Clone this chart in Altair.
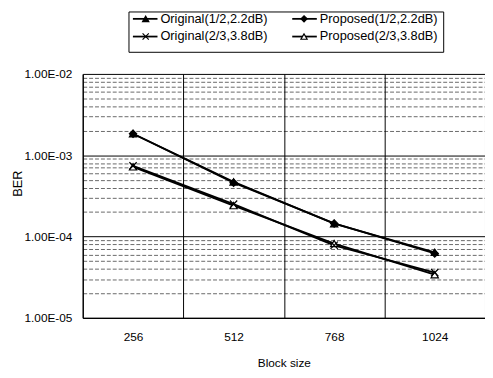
import altair as alt
import pandas as pd
import math

# ---- data ----
block_sizes = ["256", "512", "768", "1024"]
series_names = ["Original(1/2,2.2dB)", "Proposed(1/2,2.2dB)",
                "Original(2/3,3.8dB)", "Proposed(2/3,3.8dB)"]
ber_original_12 = [1.84e-3, 4.7e-4, 1.44e-4, 6.4e-5]
ber_proposed_12 = [1.84e-3, 4.6e-4, 1.45e-4, 6.2e-5]
ber_original_23 = [7.4e-4, 2.5e-4, 7.8e-5, 3.6e-5]
ber_proposed_23 = [7.2e-4, 2.4e-4, 8.2e-5, 3.4e-5]
y_decades = [1e-5, 1e-4, 1e-3, 1e-2]

values_by_series = {
    "Proposed(1/2,2.2dB)": ber_proposed_12,
    "Original(1/2,2.2dB)": ber_original_12,
    "Proposed(2/3,3.8dB)": ber_proposed_23,
    "Original(2/3,3.8dB)": ber_original_23,
}
rows = []
for s, vals in values_by_series.items():
    for b, v in zip(block_sizes, vals):
        rows.append({"series": s, "block": b, "ber": v})
df = pd.DataFrame(rows)

# y grid values: decades plus 2..9 minors
y_grid = []
for d in y_decades[:-1]:
    e = int(round(math.log10(d)))
    for m in range(1, 10):
        y_grid.append(float(f"{m}e{e}"))
y_grid.append(y_decades[-1])

FONT = "Liberation Sans"
W, H = 409, 248
is_decade = "abs(log(datum.value)/LN10 - round(log(datum.value)/LN10)) < 0.01"

x_enc = alt.X(
    "block:N", sort=block_sizes,
    scale=alt.Scale(type="band", paddingInner=0, paddingOuter=0),
    axis=alt.Axis(
        title="Block size", tickBand="extent", grid=True, gridColor="black",
        gridWidth=1, ticks=False, labelAngle=0, labelPadding=14,
        labelFontSize=12, labelFont=FONT, labelColor="black",
        titleFont=FONT, titleFontSize=12, titleFontWeight="normal",
        titleColor="black", titleY=45, titleBaseline="middle",
        domainColor="black", domainWidth=1.2,
    ),
)
y_enc = alt.Y(
    "ber:Q",
    scale=alt.Scale(type="log", domain=[1e-5, 1e-2], nice=False),
    axis=alt.Axis(
        title="BER", values=y_grid, ticks=False, grid=True,
        gridColor="black",
        gridDash={"condition": {"test": is_decade, "value": []}, "value": [4, 2]},
        gridOpacity={"condition": {"test": is_decade, "value": 1}, "value": 0.75},
        gridWidth={"condition": {"test": is_decade, "value": 1}, "value": 0.8},
        labelExpr=f"({is_decade}) ? '1.00E-0' + (-round(log(datum.value)/LN10)) : ''",
        labelPadding=11, labelFontSize=12, labelFont=FONT, labelColor="black",
        titleFont=FONT, titleFontSize=13, titleFontWeight="normal",
        titleColor="black", titleX=-66, titleY=111, titleAngle=270,
        titleAlign="center", titleBaseline="middle",
        domainColor="black", domainWidth=1.2,
    ),
)

lines = alt.Chart(df).mark_line(color="black", strokeWidth=1.8).encode(
    x=x_enc, y=y_enc, detail="series:N"
)

x_path = "M-1,-1L1,1M-1,1L1,-1"
shapes = ["triangle-up", "diamond", x_path, "triangle-up"]
fills = ["black", "black", "black", "white"]

points = alt.Chart(df).mark_point(
    filled=True, stroke="black", strokeWidth=1.2, size=55, opacity=1
).encode(
    x=alt.X("block:N", sort=block_sizes),
    y="ber:Q",
    shape=alt.Shape("series:N", scale=alt.Scale(domain=series_names, range=shapes),
                    legend=None),
    fill=alt.Fill("series:N", scale=alt.Scale(domain=series_names, range=fills),
                  legend=None),
)

# ---- manual legend (pixel layout, above plot) ----
one = alt.Data(values=[{"k": 0}])
leg_layers = [
    alt.Chart(one).mark_rect(fill="white", stroke="black", strokeWidth=1).encode(
        x=alt.value(47), x2=alt.value(367), y=alt.value(-63), y2=alt.value(-22))
]
col_x = [(51, 76, 64, 79), (213, 238, 225, 241)]
row_y = [-56, -38]
for i, name in enumerate(series_names):
    r, c = i // 2, i % 2
    xs, xe, xm, xt = col_x[c]
    yy = row_y[r]
    leg_layers.append(alt.Chart(one).mark_rule(color="black", strokeWidth=1.8).encode(
        x=alt.value(xs), x2=alt.value(xe), y=alt.value(yy)))
    leg_layers.append(alt.Chart(one).mark_point(
        shape=shapes[i], fill=fills[i], filled=True, stroke="black",
        strokeWidth=1.2, size=40, opacity=1).encode(
        x=alt.value(xm), y=alt.value(yy)))
    leg_layers.append(alt.Chart(one).mark_text(
        text=name, align="left", baseline="middle", font=FONT, fontSize=13,
        color="black").encode(x=alt.value(xt), y=alt.value(yy)))

chart = alt.layer(lines, points, *leg_layers).properties(
    width=W, height=H, autosize="none",
    padding={"left": 76, "top": 64, "right": 0, "bottom": 50},
    background="white",
).configure_view(stroke=None)

chart.save("out.html", embed_options={"renderer": "svg", "actions": False})
